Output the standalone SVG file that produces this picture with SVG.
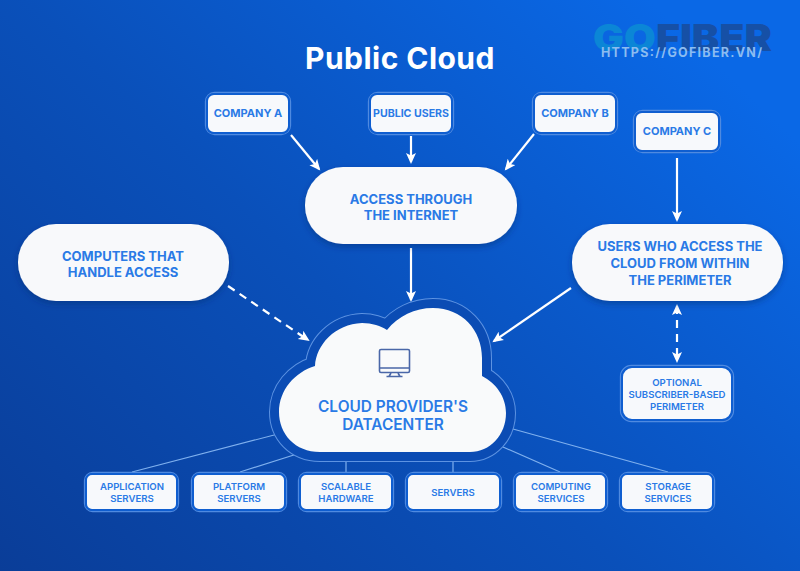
<svg xmlns="http://www.w3.org/2000/svg" width="800" height="571" viewBox="0 0 800 571">
<style>
text{font-family:"Inter","Liberation Sans",sans-serif;font-weight:700;fill:#2a7ae6;text-anchor:middle}
.box{fill:#f7f9fc;stroke:#0f5ed0;stroke-width:2}
.frame{fill:none;stroke:#4f8ae0;stroke-width:1.3}
.pill{fill:#f8f9fb;filter:url(#sh)}
.l{font-size:13px}.s{font-size:11px}.x{font-size:9.6px;font-weight:600}
.c{stroke:#fff;stroke-width:2.2;fill:none;marker-end:url(#ah)}
.d{stroke-dasharray:8 6}
.t{stroke:#7fb0ee;stroke-width:1.2;fill:none}
</style>
<defs>
<linearGradient id="bg" x1="0" y1="1" x2="1" y2="0.25"><stop offset="0" stop-color="#0a3d98"/><stop offset="0.5" stop-color="#0a50ba"/><stop offset="1" stop-color="#0a68e6"/></linearGradient>
<marker id="ah" markerWidth="12" markerHeight="12" refX="9" refY="5" orient="auto-start-reverse" markerUnits="userSpaceOnUse"><path d="M0 0L11 5L0 10L2.500 5Z" fill="#fff"/></marker>
<filter id="sh" x="-20%" y="-20%" width="140%" height="150%"><feDropShadow dx="0" dy="3" stdDeviation="3" flood-color="#06296e" flood-opacity="0.45"/></filter>
<path id="cl" d="M320 452C295 452 279 434 279 412C279 390 295 372 315 366C316 345 335 324 362 323C372 323 381 326 387 330C398 316 415 308 433 308C462 308 482 330 482 358C482 364 482 370 482 376C496 383 506 397 506 413C506 435 490 452 470 452Z"/>
</defs>
<rect width="800" height="571" fill="url(#bg)"/>
<g id="logo">
<text x="593" y="51" font-size="37" textLength="179" lengthAdjust="spacingAndGlyphs" style="font-weight:900;fill:#0b86d6;text-anchor:start">GO<tspan style="fill:#1650a6">FIBER</tspan></text>
<text x="681.500" y="57" font-size="12.500" textLength="161" style="fill:#8cbcf0">HTTPS://GOFIBER.VN/</text>
</g>
<text id="title" x="400" y="69" font-size="30" letter-spacing="0.450" style="fill:#fff">Public Cloud</text>
<g id="connectors">
<path class="t" d="M132 472L278 434M240 472L297 454M346 472V460M453 472V460M560 472L503 447M668 472L513 429"/>
<path class="c" d="M291 135L319 169"/>
<path class="c" d="M411 136V162"/>
<path class="c" d="M534 134L506 169"/>
<path class="c" d="M677 158V220"/>
<path class="c" d="M411 248V300"/>
<path class="c d" d="M228 286L308 340"/>
<path class="c" d="M571 288L494 341"/>
<path class="c d" d="M677 306V361" style="marker-start:url(#ah)"/>
</g>
<g id="cloud">
<use href="#cl" fill="none" stroke="#5d93e2" stroke-width="20" stroke-linejoin="round"/>
<use href="#cl" fill="none" stroke="#0b4cb4" stroke-width="18" stroke-linejoin="round"/>
<use href="#cl" fill="#f9fafb"/>
<g fill="none" stroke="#4a67a8" stroke-width="1.6"><rect x="379.500" y="349.500" width="30" height="23" rx="1.500"/><path d="M379.500 368H409.500M391 373L389 376.500M398 373L400 376.500M386.500 376.500H402.500"/></g>
<text x="393" y="412" style="font-size:15.400px;font-weight:600">CLOUD PROVIDER'S</text>
<text x="393" y="430" style="font-size:15.400px;font-weight:600">DATACENTER</text>
</g>
<g id="company-a"><rect class="frame" x="205.500" y="92.500" width="85" height="42" rx="9"/><rect class="box" x="207" y="94" width="82" height="39" rx="7"/><text class="s" x="248" y="117">COMPANY A</text></g>
<g id="public-users"><rect class="frame" x="368.500" y="92.500" width="85" height="42" rx="9"/><rect class="box" x="370" y="94" width="82" height="39" rx="7"/><text class="s" x="411" y="117" style="font-size:10.600px">PUBLIC USERS</text></g>
<g id="company-b"><rect class="frame" x="532.500" y="92.500" width="85" height="42" rx="9"/><rect class="box" x="534" y="94" width="82" height="39" rx="7"/><text class="s" x="575" y="117">COMPANY B</text></g>
<g id="company-c"><rect class="frame" x="633.500" y="110.500" width="87" height="42" rx="9"/><rect class="box" x="635" y="112" width="84" height="39" rx="7"/><text class="s" x="677" y="135">COMPANY C</text></g>
<g id="access"><rect class="pill" x="305" y="167" width="212" height="77" rx="38"/><text class="l" x="411" y="204">ACCESS THROUGH</text><text class="l" x="411" y="220">THE INTERNET</text></g>
<g id="computers"><rect class="pill" x="18" y="224" width="211" height="77" rx="38"/><text class="l" x="123" y="261">COMPUTERS THAT</text><text class="l" x="123" y="277">HANDLE ACCESS</text></g>
<g id="users"><rect class="pill" x="572" y="224" width="211" height="77" rx="38"/><text class="l" x="680" y="251">USERS WHO ACCESS THE</text><text class="l" x="680" y="268">CLOUD FROM WITHIN</text><text class="l" x="680" y="285">THE PERIMETER</text></g>
<g id="optional"><rect class="frame" x="620.500" y="365.500" width="113" height="56" rx="11"/><rect class="box" x="622" y="367" width="110" height="53" rx="10"/><text class="x" x="677" y="386">OPTIONAL</text><text class="x" x="677" y="398">SUBSCRIBER-BASED</text><text class="x" x="677" y="410">PERIMETER</text></g>
<g id="app-servers"><rect class="frame" x="84.500" y="472.500" width="94" height="39" rx="8"/><rect class="box" x="86" y="474" width="91" height="36" rx="6"/><text class="x" x="132" y="490">APPLICATION</text><text class="x" x="132" y="502">SERVERS</text></g>
<g id="platform-servers"><rect class="frame" x="191.500" y="472.500" width="95" height="39" rx="8"/><rect class="box" x="193" y="474" width="92" height="36" rx="6"/><text class="x" x="239" y="490">PLATFORM</text><text class="x" x="239" y="502">SERVERS</text></g>
<g id="scalable-hardware"><rect class="frame" x="298.500" y="472.500" width="95" height="39" rx="8"/><rect class="box" x="300" y="474" width="92" height="36" rx="6"/><text class="x" x="346" y="490">SCALABLE</text><text class="x" x="346" y="502">HARDWARE</text></g>
<g id="servers"><rect class="frame" x="405.500" y="472.500" width="96" height="39" rx="8"/><rect class="box" x="407" y="474" width="93" height="36" rx="6"/><text class="x" x="453" y="496">SERVERS</text></g>
<g id="computing-services"><rect class="frame" x="513.500" y="472.500" width="94" height="39" rx="8"/><rect class="box" x="515" y="474" width="91" height="36" rx="6"/><text class="x" x="561" y="490">COMPUTING</text><text class="x" x="561" y="502">SERVICES</text></g>
<g id="storage-services"><rect class="frame" x="619.500" y="472.500" width="95" height="39" rx="8"/><rect class="box" x="621" y="474" width="92" height="36" rx="6"/><text class="x" x="668" y="490">STORAGE</text><text class="x" x="668" y="502">SERVICES</text></g>
</svg>
